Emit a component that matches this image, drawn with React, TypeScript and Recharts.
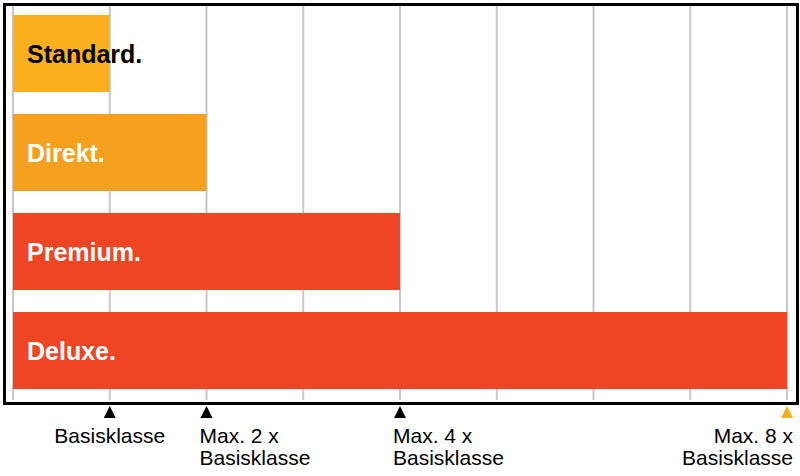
import React from 'react';
import { BarChart, Bar, XAxis, YAxis, CartesianGrid, LabelList, Cell } from 'recharts';

// Daten
const categories = ['Standard.', 'Direkt.', 'Premium.', 'Deluxe.'];
const factors = [1, 2, 4, 8];
const barColors = ['#FAAF1F', '#F6A01F', '#EE4524', '#EE4524'];
const labelColors = ['#000000', '#FFFFFF', '#FFFFFF', '#FFFFFF'];

const axisTicks = [0, 1, 2, 3, 4, 5, 6, 7, 8];
const tickLabels: Record<number, string[]> = {
  1: ['Basisklasse'],
  2: ['Max. 2 x', 'Basisklasse'],
  4: ['Max. 4 x', 'Basisklasse'],
  8: ['Max. 8 x', 'Basisklasse'],
};

const data = categories.map((name, i) => ({ name, value: factors[i] }));

const FONT = '"Liberation Sans", Arial, Helvetica, sans-serif';
const MAX = axisTicks[axisTicks.length - 1];

const AxisMarker = (props: any) => {
  const { x, y, payload } = props;
  const lines = tickLabels[payload.value];
  if (!lines) return null;
  const isLast = payload.value === MAX;
  const anchor = payload.value === 1 ? 'middle' : isLast ? 'end' : 'start';
  const tx = payload.value === 1 ? x : isLast ? x + 6 : x - 7;
  return (
    <g>
      <polygon
        points={`${x - 6},${y + 18} ${x + 6},${y + 18} ${x},${y + 6}`}
        fill={isLast ? '#F9AE1F' : '#000000'}
      />
      {lines.map((line, i) => (
        <text
          key={i}
          x={tx}
          y={y + 43 + i * 22}
          textAnchor={anchor}
          fontSize={21}
          fontFamily={FONT}
          fill="#000"
        >
          {line}
        </text>
      ))}
    </g>
  );
};

const BarName = (props: any) => {
  const { x, y, height, index } = props;
  return (
    <text
      x={x + 14}
      y={y + height / 2 + 9}
      fontSize={25}
      fontWeight="bold"
      fontFamily={FONT}
      fill={labelColors[index]}
    >
      {categories[index]}
    </text>
  );
};

export default function App() {
  return (
    <div style={{ position: 'absolute', left: 0, top: 0, width: 800, height: 476, background: '#fff' }}>
      <BarChart
        width={800}
        height={476}
        data={data}
        layout="vertical"
        margin={{ top: 4, right: 13, bottom: 0, left: 13 }}
        barCategoryGap={0}
      >
        <CartesianGrid horizontal={false} stroke="#C8C8C8" strokeWidth={2} />
        <XAxis
          type="number"
          domain={[0, MAX]}
          ticks={axisTicks}
          interval={0}
          axisLine={false}
          tickLine={false}
          tickSize={0}
          tickMargin={0}
          height={76}
          tick={<AxisMarker />}
        />
        <YAxis type="category" dataKey="name" hide />
        <Bar dataKey="value" barSize={77} isAnimationActive={false}>
          {data.map((d, i) => (
            <Cell key={d.name} fill={barColors[i]} />
          ))}
          <LabelList dataKey="name" content={<BarName />} />
        </Bar>
      </BarChart>
      <div
        style={{
          position: 'absolute',
          left: 3,
          top: 3,
          width: 790,
          height: 396,
          border: '3px solid #000',
          pointerEvents: 'none',
        }}
      />
    </div>
  );
}
